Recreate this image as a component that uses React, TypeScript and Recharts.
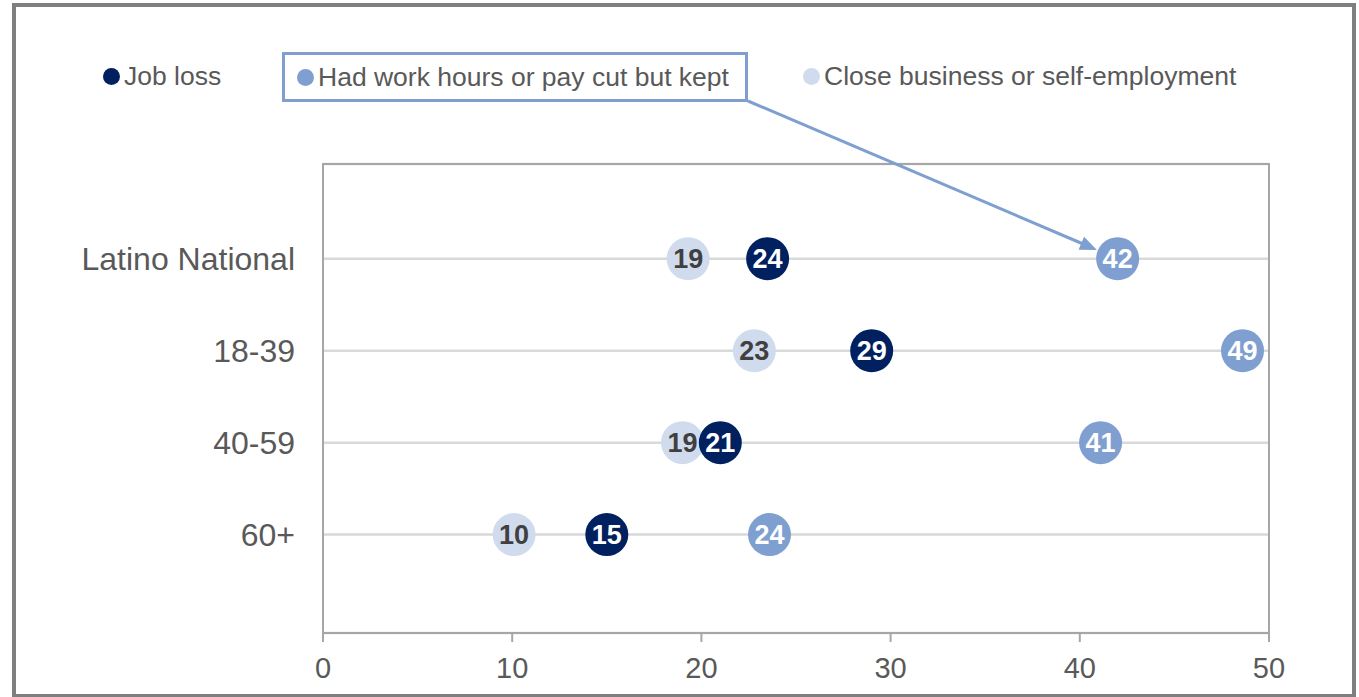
import React from 'react';
import {
  ScatterChart,
  Scatter,
  XAxis,
  YAxis,
  CartesianGrid,
  LabelList,
  ReferenceArea,
} from 'recharts';

// rows, top to bottom
const categories = ['Latino National', '18-39', '40-59', '60+'];

// percent values
const jobLoss = [23.5, 29.0, 21.0, 15.0];
const hoursCut = [42.0, 48.6, 41.1, 23.6];
const closeBusiness = [19.3, 22.8, 19.0, 10.1];

const xTicks = [0, 10, 20, 30, 40, 50];

const seriesNames = [
  'Job loss',
  'Had work hours or pay cut but kept',
  'Close business or self-employment',
];

const NAVY = '#002060';
const MID_BLUE = '#7f9fd0';
const LIGHT_BLUE = '#d0dcee';
const TEXT_GREY = '#595959';
const AXIS_GREY = '#a6a6a6';
const FONT = '"Liberation Sans", Arial, sans-serif';
const DOT_R = 21.5;

// corner of the highlighted legend box where the arrow starts
const ARROW_FROM = { x: 748, y: 101 };

// row index: top row gets the highest value
const rowOf = (i: number) => categories.length - 1 - i;
const yTicks = categories.map((_, i) => rowOf(i));
const rowLabel = (v: any) => categories[categories.length - 1 - Number(v)] ?? '';

const toRows = (values: number[]) =>
  categories.map((group, i) => ({ group, row: rowOf(i), value: values[i] }));

const dot = (fill: string) => (props: any) => (
  <circle cx={props.cx} cy={props.cy} r={DOT_R} fill={fill} />
);

const hoursDot = (props: any) => {
  const { cx, cy, payload } = props;
  let arrow = null;
  if (payload && payload.group === categories[0]) {
    const dx = cx - ARROW_FROM.x;
    const dy = cy - ARROW_FROM.y;
    const len = Math.sqrt(dx * dx + dy * dy);
    const ux = dx / len;
    const uy = dy / len;
    const tipX = cx - ux * (DOT_R + 1);
    const tipY = cy - uy * (DOT_R + 1);
    const headLen = 17;
    const headW = 7;
    const bx = tipX - ux * headLen;
    const by = tipY - uy * headLen;
    arrow = (
      <g>
        <line
          x1={ARROW_FROM.x}
          y1={ARROW_FROM.y}
          x2={bx + ux * 2}
          y2={by + uy * 2}
          stroke={MID_BLUE}
          strokeWidth={3}
        />
        <polygon
          points={`${tipX},${tipY} ${bx - uy * headW},${by + ux * headW} ${bx + uy * headW},${by - ux * headW}`}
          fill={MID_BLUE}
        />
      </g>
    );
  }
  return (
    <g>
      {arrow}
      <circle cx={cx} cy={cy} r={DOT_R} fill={MID_BLUE} />
    </g>
  );
};

const labelStyle = (fill: string) => ({
  fill,
  fontSize: 27,
  fontWeight: 700,
  fontFamily: FONT,
});

const round = (v: any) => Math.round(Number(v));

function Legend() {
  const marker = (color: string) => (
    <span
      style={{
        display: 'inline-block',
        width: 17,
        height: 17,
        borderRadius: '50%',
        background: color,
        marginRight: 4,
      }}
    />
  );
  const text = { fontSize: 26.5, color: TEXT_GREY, fontFamily: FONT, lineHeight: '30px' };
  return (
    <>
      <div style={{ position: 'absolute', left: 103, top: 61, display: 'flex', alignItems: 'center' }}>
        {marker(NAVY)}
        <span style={text}>{seriesNames[0]}</span>
      </div>
      <div
        style={{
          position: 'absolute',
          left: 282,
          top: 52,
          width: 448,
          height: 44,
          border: `3px solid ${MID_BLUE}`,
          display: 'flex',
          alignItems: 'center',
          paddingLeft: 12,
          boxSizing: 'content-box',
        }}
      >
        {marker(MID_BLUE)}
        <span style={text}>{seriesNames[1]}</span>
      </div>
      <div style={{ position: 'absolute', left: 803, top: 61, display: 'flex', alignItems: 'center' }}>
        {marker(LIGHT_BLUE)}
        <span style={text}>{seriesNames[2]}</span>
      </div>
    </>
  );
}

export default function App() {
  return (
    <div
      style={{
        position: 'absolute',
        left: 0,
        top: 0,
        width: 1359,
        height: 697,
        overflow: 'hidden',
        background: '#fff',
        fontFamily: FONT,
      }}
    >
      <div
        style={{
          position: 'absolute',
          left: 12,
          top: 3,
          width: 1336,
          height: 687,
          border: '4px solid #7f7f7f',
        }}
      />
      <ScatterChart
        width={1359}
        height={697}
        margin={{ top: 164, right: 90, bottom: 0, left: 0 }}
        style={{ position: 'absolute', left: 0, top: 0 }}
      >
        <CartesianGrid vertical={false} stroke="#d9d9d9" strokeWidth={2.5} />
        <XAxis
          type="number"
          dataKey="value"
          domain={[0, 50]}
          ticks={xTicks}
          height={64}
          axisLine={{ stroke: AXIS_GREY, strokeWidth: 2 }}
          tickLine={{ stroke: AXIS_GREY, strokeWidth: 2 }}
          tickSize={9}
          tickMargin={15}
          tick={{ fill: TEXT_GREY, fontSize: 29, fontFamily: FONT }}
        />
        <YAxis
          type="number"
          dataKey="row"
          domain={[-1.07, categories.length - 1 + 1.03]}
          ticks={yTicks}
          tickFormatter={rowLabel}
          interval={0}
          width={323}
          axisLine={{ stroke: AXIS_GREY, strokeWidth: 2 }}
          tickLine={false}
          tickSize={0}
          tickMargin={28}
          tick={{ fill: TEXT_GREY, fontSize: 32, fontFamily: FONT }}
        />
        <ReferenceArea
          x1={0}
          x2={50}
          fill="none"
          fillOpacity={0}
          stroke={AXIS_GREY}
          strokeWidth={2}
        />
        <Scatter
          name={seriesNames[2]}
          data={toRows(closeBusiness)}
          shape={dot(LIGHT_BLUE)}
          isAnimationActive={false}
        >
          <LabelList dataKey="value" position="center" formatter={round} style={labelStyle('#404040')} />
        </Scatter>
        <Scatter
          name={seriesNames[0]}
          data={toRows(jobLoss)}
          shape={dot(NAVY)}
          isAnimationActive={false}
        >
          <LabelList dataKey="value" position="center" formatter={round} style={labelStyle('#ffffff')} />
        </Scatter>
        <Scatter
          name={seriesNames[1]}
          data={toRows(hoursCut)}
          shape={hoursDot}
          isAnimationActive={false}
        >
          <LabelList dataKey="value" position="center" formatter={round} style={labelStyle('#ffffff')} />
        </Scatter>
      </ScatterChart>
      <Legend />
    </div>
  );
}
